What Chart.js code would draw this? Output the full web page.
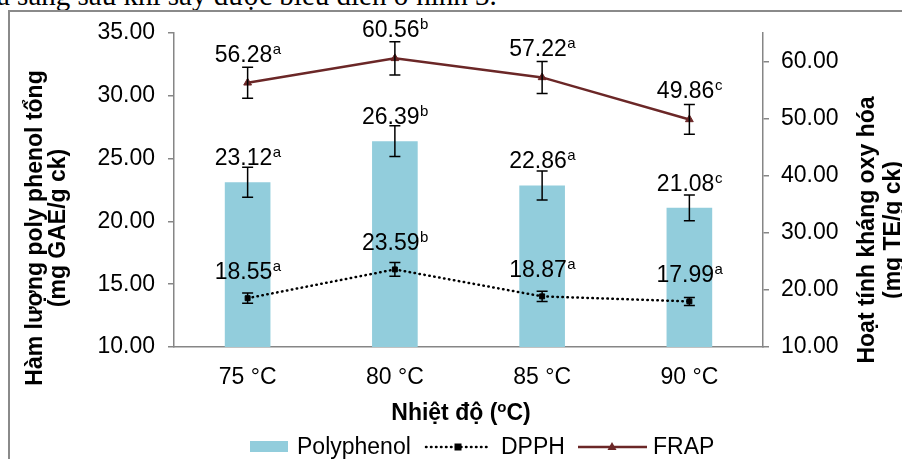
<!DOCTYPE html>
<html>
<head>
<meta charset="utf-8">
<script src="https://cdn.jsdelivr.net/npm/chart.js@4.4.0/dist/chart.umd.min.js"></script>
<style>
  html, body { margin: 0; padding: 0; background: #fff; }
  #wrap { position: relative; width: 902px; height: 459px; overflow: hidden; }
  #caption { position: absolute; left: -3px; top: -19px; font: 29px "Liberation Serif", serif; line-height: 29px; white-space: nowrap; color: #000; }
  #frame { position: absolute; left: 8px; top: 10px; width: 920px; height: 470px; border-left: 2px solid #8a8a8a; border-top: 2px solid #8a8a8a; pointer-events: none; }
  canvas { position: absolute; left: 0; top: 0; }
</style>
</head>
<body>
<div id="wrap">
  <div id="caption">a sáng sau khi sấy được biểu diễn ở hình 3.</div>
  <canvas id="chart" width="902" height="459"></canvas>
  <div id="frame"></div>
</div>
<script>
// --- data ---
const categories = ['75 °C', '80 °C', '85 °C', '90 °C'];

const polyphenol = [23.12, 26.39, 22.86, 21.08];
const polyphenolErr = [1.2, 1.23, 1.15, 1.03];
const polyphenolSig = ['a', 'b', 'a', 'c'];

const dpph = [18.55, 23.59, 18.87, 17.99];
const dpphErr = [0.9, 1.2, 0.9, 0.7];
const dpphSig = ['a', 'b', 'a', 'a'];

const frap = [56.28, 60.56, 57.22, 49.86];
const frapErr = [2.7, 2.9, 2.8, 2.6];
const frapSig = ['a', 'b', 'a', 'c'];

// axis ranges: [min, max, step]
const leftAxis = [10, 35, 5];
const rightAxis = [10, 65, 10];

const FONT = '"Liberation Sans", Arial, sans-serif';
const barColor = '#92cddc';
const frapColor = '#6b2727';
const axisColor = '#868686';

Chart.defaults.font.family = FONT;
Chart.defaults.color = '#000';

// error bars + value labels with significance letters
const errorBarsAndLabels = {
    id: 'errorBarsAndLabels',
    afterDatasetsDraw(chart) {
        const ctx = chart.ctx;
        chart.data.datasets.forEach((ds, i) => {
            const meta = chart.getDatasetMeta(i);
            const yScale = chart.scales[ds.yAxisID];
            meta.data.forEach((el, j) => {
                const x = el.x;
                const v = ds.data[j];
                const e = ds.errors[j];
                const yTop = yScale.getPixelForValue(v + e);
                const yBot = yScale.getPixelForValue(v - e);
                ctx.save();
                ctx.strokeStyle = '#000';
                ctx.lineWidth = 1.5;
                ctx.beginPath();
                ctx.moveTo(x, yTop); ctx.lineTo(x, yBot);
                ctx.moveTo(x - 5.5, yTop); ctx.lineTo(x + 5.5, yTop);
                ctx.moveTo(x - 5.5, yBot); ctx.lineTo(x + 5.5, yBot);
                ctx.stroke();

                // label: number + superscript letter
                const num = v.toFixed(2);
                const sig = ds.sig[j];
                ctx.font = '23px ' + FONT;
                const w1 = ctx.measureText(num).width;
                ctx.font = '15px ' + FONT;
                const w2 = ctx.measureText(sig).width;
                const x0 = x - (w1 + w2) / 2;
                const base = el.y - ds.labelGap;
                ctx.fillStyle = '#000';
                ctx.textAlign = 'left';
                ctx.textBaseline = 'alphabetic';
                ctx.font = '23px ' + FONT;
                ctx.fillText(num, x0, base);
                ctx.font = '15px ' + FONT;
                ctx.fillText(sig, x0 + w1 + 0.5, base - 8);
                ctx.restore();
            });
        });
    }
};

// axis titles and legend
const titlesAndLegend = {
    id: 'titlesAndLegend',
    afterDraw(chart) {
        const ctx = chart.ctx;
        ctx.save();
        ctx.fillStyle = '#000';
        ctx.textAlign = 'center';
        ctx.textBaseline = 'middle';
        ctx.font = 'bold 23px ' + FONT;

        // left title
        ctx.save();
        ctx.translate(36, 228);
        ctx.rotate(-Math.PI / 2);
        ctx.fillText('Hàm lượng poly phenol tổng', 0, 0);
        ctx.fillText('(mg GAE/g ck)', 0, 23);
        ctx.restore();

        // right title
        ctx.save();
        ctx.translate(868, 230);
        ctx.rotate(-Math.PI / 2);
        ctx.fillText('Hoạt tính kháng oxy hóa', 0, 0);
        ctx.fillText('(mg TE/g ck)', 0, 26);
        ctx.restore();

        // x title with superscript o
        ctx.textAlign = 'left';
        ctx.textBaseline = 'alphabetic';
        const p1 = 'Nhiệt độ (', p3 = 'C)';
        const w1 = ctx.measureText(p1).width;
        const w3 = ctx.measureText(p3).width;
        ctx.font = 'bold 15px ' + FONT;
        const w2 = ctx.measureText('o').width;
        let xx = 461 - (w1 + w2 + w3) / 2;
        ctx.font = 'bold 23px ' + FONT;
        ctx.fillText(p1, xx, 420);
        ctx.font = 'bold 15px ' + FONT;
        ctx.fillText('o', xx + w1, 412);
        ctx.font = 'bold 23px ' + FONT;
        ctx.fillText(p3, xx + w1 + w2, 420);

        // legend
        const ly = 447;
        ctx.font = '23px ' + FONT;
        ctx.fillStyle = barColor;
        ctx.fillRect(250, 441, 38, 11);
        ctx.fillStyle = '#000';
        ctx.fillText('Polyphenol', 297, 454);

        ctx.strokeStyle = '#000';
        ctx.lineWidth = 2.5;
        ctx.lineCap = 'round';
        ctx.setLineDash([0.5, 4.5]);
        ctx.beginPath();
        ctx.moveTo(426, ly); ctx.lineTo(491, ly);
        ctx.stroke();
        ctx.setLineDash([]);
        ctx.fillRect(458 - 3.5, ly - 3.5, 7, 7);
        ctx.fillText('DPPH', 501, 454);

        ctx.strokeStyle = frapColor;
        ctx.lineCap = 'butt';
        ctx.beginPath();
        ctx.moveTo(578, ly); ctx.lineTo(647, ly);
        ctx.stroke();
        ctx.fillStyle = frapColor;
        ctx.beginPath();
        ctx.moveTo(612, ly - 5); ctx.lineTo(616.5, ly + 3); ctx.lineTo(607.5, ly + 3);
        ctx.closePath();
        ctx.fill();
        ctx.fillStyle = '#000';
        ctx.fillText('FRAP', 653, 454);
        ctx.restore();
    }
};

new Chart(document.getElementById('chart'), {
    type: 'bar',
    data: {
        labels: categories,
        datasets: [
            {
                type: 'line',
                label: 'FRAP',
                data: frap,
                errors: frapErr,
                sig: frapSig,
                labelGap: 21,
                yAxisID: 'y2',
                borderColor: frapColor,
                backgroundColor: frapColor,
                borderWidth: 2.5,
                pointStyle: 'triangle',
                pointRadius: 4.5,
                pointBorderWidth: 1,
                tension: 0,
                order: 1
            },
            {
                type: 'line',
                label: 'DPPH',
                data: dpph,
                errors: dpphErr,
                sig: dpphSig,
                labelGap: 19,
                yAxisID: 'y2',
                borderColor: '#000',
                backgroundColor: '#000',
                borderWidth: 2.5,
                borderDash: [0.5, 4.5],
                borderCapStyle: 'round',
                pointStyle: 'rect',
                pointRadius: 3.5,
                pointBorderWidth: 1,
                tension: 0,
                order: 2
            },
            {
                type: 'bar',
                label: 'Polyphenol',
                data: polyphenol,
                errors: polyphenolErr,
                sig: polyphenolSig,
                labelGap: 17,
                yAxisID: 'y',
                backgroundColor: barColor,
                barPercentage: 0.31,
                categoryPercentage: 1,
                order: 3
            }
        ]
    },
    options: {
        responsive: false,
        animation: false,
        devicePixelRatio: 1,
        layout: { padding: { top: 33, left: 0, right: 0, bottom: 0 } },
        plugins: { legend: { display: false }, tooltip: { enabled: false } },
        scales: {
            x: {
                z: 1,
                offset: true,
                grid: { display: false },
                border: { color: axisColor, width: 1.5 },
                ticks: { font: { size: 23 }, padding: 9, maxRotation: 0, autoSkip: false },
                afterFit: s => { s.height = 112; }
            },
            y: {
                position: 'left',
                min: leftAxis[0],
                max: leftAxis[1],
                ticks: { stepSize: leftAxis[2], callback: v => v.toFixed(2), font: { size: 23 }, padding: 13 },
                grid: { drawOnChartArea: false, tickLength: 6, color: axisColor, lineWidth: 1.5 },
                border: { color: axisColor, width: 1.5 },
                afterFit: s => { s.width = 174; }
            },
            y2: {
                position: 'right',
                min: rightAxis[0],
                max: rightAxis[1],
                ticks: { stepSize: rightAxis[2], includeBounds: false, callback: v => v.toFixed(2), font: { size: 23 }, padding: 12 },
                grid: { drawOnChartArea: false, tickLength: 6, color: axisColor, lineWidth: 1.5 },
                border: { color: axisColor, width: 1.5 },
                afterFit: s => { s.width = 139; }
            }
        }
    },
    plugins: [errorBarsAndLabels, titlesAndLegend]
});
</script>
</body>
</html>
